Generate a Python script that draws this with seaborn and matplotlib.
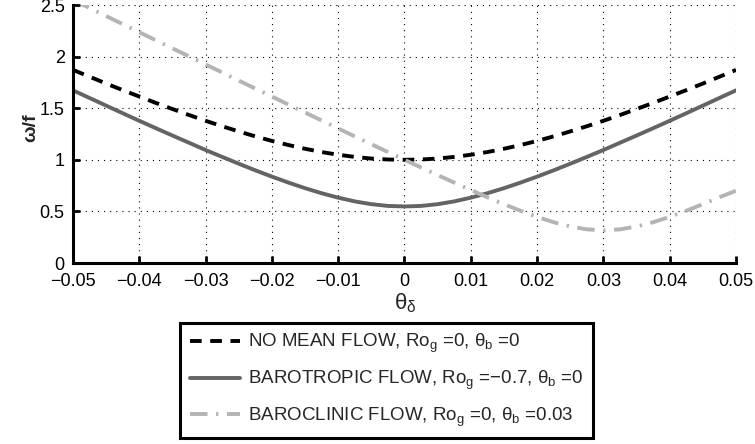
import numpy as np
import pandas as pd
import seaborn as sns
import matplotlib
matplotlib.use("Agg")
import matplotlib.pyplot as plt

theta = [-0.05, -0.0475, -0.045, -0.0425, -0.04, -0.0375, -0.035, -0.0325, -0.03, -0.0275,
         -0.025, -0.0225, -0.02, -0.0175, -0.015, -0.0125, -0.01, -0.0075, -0.005, -0.0025,
         0.0, 0.0025, 0.005, 0.0075, 0.01, 0.0125, 0.015, 0.0175, 0.02, 0.0225,
         0.025, 0.0275, 0.03, 0.0325, 0.035, 0.0375, 0.04, 0.0425, 0.045, 0.0475, 0.05]

no_mean = [1.871, 1.805, 1.739, 1.675, 1.613, 1.551, 1.492, 1.434, 1.378, 1.325,
           1.275, 1.227, 1.183, 1.143, 1.107, 1.075, 1.049, 1.028, 1.012, 1.003,
           1.000, 1.003, 1.012, 1.028, 1.049, 1.075, 1.107, 1.143, 1.183, 1.227,
           1.275, 1.325, 1.378, 1.434, 1.492, 1.551, 1.613, 1.675, 1.739, 1.805, 1.871]

barotropic = [1.673, 1.599, 1.525, 1.451, 1.378, 1.306, 1.235, 1.165, 1.095, 1.028,
              0.962, 0.898, 0.837, 0.779, 0.725, 0.676, 0.633, 0.597, 0.570, 0.553,
              0.548, 0.553, 0.570, 0.597, 0.633, 0.676, 0.725, 0.779, 0.837, 0.898,
              0.962, 1.028, 1.095, 1.165, 1.235, 1.306, 1.378, 1.451, 1.525, 1.599, 1.673]

baroclinic = [2.550, 2.471, 2.393, 2.314, 2.236, 2.158, 2.080, 2.002, 1.924, 1.846,
              1.768, 1.690, 1.613, 1.535, 1.458, 1.381, 1.304, 1.227, 1.151, 1.075,
              1.000, 0.925, 0.852, 0.779, 0.707, 0.637, 0.570, 0.506, 0.447, 0.395,
              0.354, 0.326, 0.316, 0.326, 0.354, 0.395, 0.447, 0.506, 0.570, 0.637, 0.700]

labels = [r"NO MEAN FLOW, Ro$_{\mathregular{g}}$ =0, θ$_{\mathregular{b}}$ =0",
          r"BAROTROPIC FLOW, Ro$_{\mathregular{g}}$ =−0.7, θ$_{\mathregular{b}}$ =0",
          r"BAROCLINIC FLOW, Ro$_{\mathregular{g}}$ =0, θ$_{\mathregular{b}}$ =0.03"]
xticks = [-0.05, -0.04, -0.03, -0.02, -0.01, 0, 0.01, 0.02, 0.03, 0.04, 0.05]
xticklabels = ["\u22120.05", "\u22120.04", "\u22120.03", "\u22120.02", "\u22120.01", "0",
               "0.01", "0.02", "0.03", "0.04", "0.05"]
yticks = [0, 0.5, 1, 1.5, 2, 2.5]
yticklabels = ["0", "0.5", "1", "1.5", "2", "2.5"]

sns.set_theme(style="white")
plt.rcParams['font.family'] = ['Liberation Sans', 'DejaVu Sans']
plt.rcParams['mathtext.fontset'] = 'custom'
plt.rcParams['mathtext.rm'] = 'Liberation Sans'
plt.rcParams['mathtext.it'] = 'Liberation Sans:italic'

df = pd.DataFrame({"theta": theta * 3,
                   "omega": no_mean + barotropic + baroclinic,
                   "flow": [labels[0]] * len(theta) + [labels[1]] * len(theta) + [labels[2]] * len(theta)})

fig = plt.figure(figsize=(7.55, 4.44), dpi=100)
ax = fig.add_axes([73 / 755, 1 - 263 / 444, (736 - 73) / 755, (263 - 5) / 444])

colors = ["#000000", "#646464", "#b4b4b4"]
styles = [(0, (3.0, 2.2)), "-", (0, (4.5, 2.2, 0.6, 2.2))]
for lab, c, ls in zip(labels, colors, styles):
    sns.lineplot(data=df[df["flow"] == lab], x="theta", y="omega", ax=ax,
                 color=c, linewidth=2.8, linestyle=ls, label=lab, sort=False)

ax.set_xlim(-0.05, 0.05)
ax.set_ylim(0, 2.5)
ax.set_xticks(xticks)
ax.set_xticklabels(xticklabels)
ax.set_yticks(yticks)
ax.set_yticklabels(yticklabels)
ax.grid(True, color="black", linestyle=(0, (1, 4.5)), linewidth=0.8)
for s in ["top", "right"]:
    ax.spines[s].set_visible(False)
for s in ["left", "bottom"]:
    ax.spines[s].set_linewidth(2.2)
    ax.spines[s].set_color("black")
ax.tick_params(direction="in", length=5, width=2, labelsize=13, colors="black",
               left=True, bottom=True)
ax.tick_params(axis="x", pad=7.2)
ax.tick_params(axis="y", pad=6)
ax.set_xlabel("θ$_{\\mathregular{δ}}$", fontsize=16, va="top")
ax.set_ylabel("ω/f", fontsize=14, fontweight="bold")
ax.xaxis.set_label_coords((405 - 73) / (736 - 73), -(291 - 263) / 258)
ax.yaxis.set_label_coords(-(73 - 39) / 663, (263 - 128) / 258)

leg = ax.legend(loc="center", bbox_to_anchor=(386.5 / 755, 1 - 380.5 / 444),
                bbox_transform=fig.transFigure, frameon=True, fancybox=False,
                fontsize=13.5, handlelength=2.7, labelspacing=0.72, borderpad=0.5,
                handletextpad=0.4, borderaxespad=0)
leg.get_frame().set_edgecolor("black")
leg.get_frame().set_linewidth(2.2)
leg.get_frame().set_alpha(1)

fig.savefig("out.png", dpi=100)
